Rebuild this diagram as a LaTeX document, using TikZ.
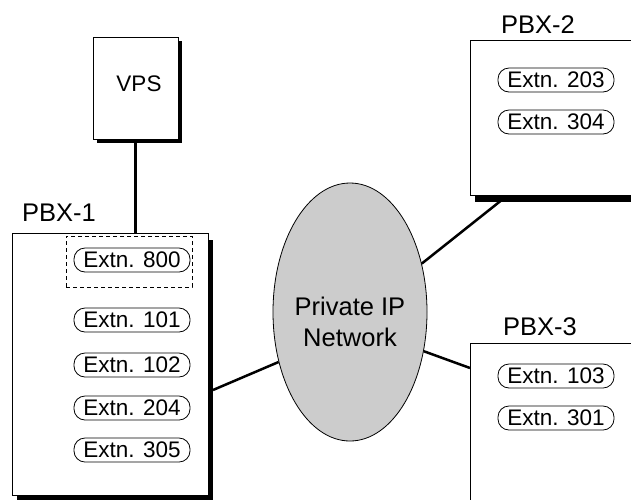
\documentclass[tikz,border=0pt]{standalone}
\usepackage{fontspec}
\setmainfont{Liberation Sans}
\usepackage{xcolor}
\usepackage{tikz}
\usetikzlibrary{positioning,shapes,shadows}
\definecolor{netgray}{RGB}{204,204,204}
\tikzset{
  pbxbox/.style={draw, fill=white, line width=0.8pt, inner sep=0pt,
    drop shadow={shadow xshift=5pt, shadow yshift=-7pt, fill=black, opacity=1}},
  vpsbox/.style={draw, fill=white, line width=0.8pt, inner sep=0pt,
    drop shadow={shadow xshift=4pt, shadow yshift=-4pt, fill=black, opacity=1}},
  extn/.style={draw, line width=0.8pt, rounded corners=11pt, minimum width=116pt,
    minimum height=24pt, inner sep=0pt, font=\fontsize{22.5}{27}\selectfont},
  title/.style={font=\fontsize{25.5}{30}\selectfont},
  link/.style={line width=2.5pt}
}

\begin{document}
\begin{tikzpicture}[x=1pt,y=-1pt]
\useasboundingbox (0,0) rectangle (631,499);
\clip (0,0) rectangle (631,499);

% VPS
\node[vpsbox, minimum width=85pt, minimum height=102pt] (vps) at (135.5,88) {};
\node[font=\fontsize{22.5}{27}\selectfont] (vpslbl) at (139,84) {VPS};

% PBX-1 with its extensions
\node[title] (pbx1lbl) at (59,213) {PBX-1};
\node[pbxbox, minimum width=196pt, minimum height=262pt] (pbx1) at (110,364) {};
\node[draw, line width=0.8pt, dash pattern=on 4pt off 3pt, minimum width=126pt,
  minimum height=51pt] (vpsgrp) at (129,261.5) {};
\node[extn] (e800) at (132,260) {Extn. 800};
\foreach \n/\y in {101/320,102/365,204/408,305/450} {
  \node[extn] (e\n) at (132,\y) {Extn. \n};
}

% PBX-2
\node[title] (pbx2lbl) at (538,25) {PBX-2};
\node[pbxbox, minimum width=180pt, minimum height=155pt] (pbx2) at (560,117.5) {};
\foreach \n/\y in {203/80,304/122} {
  \node[extn] (e\n) at (556,\y) {Extn. \n};
}

% PBX-3
\node[title] (pbx3lbl) at (540,327) {PBX-3};
\node[pbxbox, minimum width=180pt, minimum height=187pt] (pbx3) at (560,436.5) {};
\foreach \n/\y in {103/376,301/418} {
  \node[extn] (e\n) at (556,\y) {Extn. \n};
}

% Private IP network
\node[ellipse, draw, fill=netgray, line width=0.8pt, inner sep=0pt,
  minimum width=154pt, minimum height=258pt] (net) at (350,312) {};
\node[align=center, font=\fontsize{25.5}{31}\selectfont] (netlbl) at (350,322) {Private IP\\Network};

% links
\coordinate (p1port) at (213,390);
\coordinate (p2port) at (503,199);
\coordinate (p3port) at (470,368);
\draw[link] (vps.south) -- (vps.south |- pbx1.north);
\draw[link] (p1port) -- (net.215);
\draw[link] (net.34) -- (p2port);
\draw[link] (net.332) -- (p3port);

\end{tikzpicture}
\end{document}
